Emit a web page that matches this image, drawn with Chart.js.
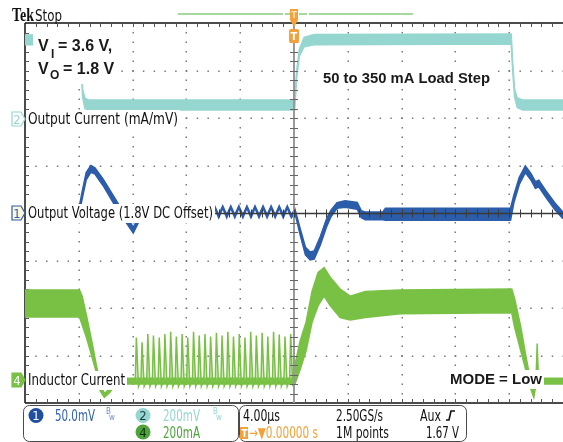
<!DOCTYPE html>
<html>
<head>
<meta charset="utf-8">
<script src="https://cdn.jsdelivr.net/npm/chart.js@4.4.1/dist/chart.umd.min.js"></script>
<style>
  body { margin: 0; background: #fff; }
  canvas { display: block; }
</style>
</head>
<body>
<canvas id="scope" width="563" height="442"></canvas>
<script>
// time in µs (4 µs/div, trigger at 0), values in divisions from screen centre
// each trace is kept as an upper/lower edge so the noise band keeps its thickness

// CH2 output current
const ch2Time = [-20, -15.85, -15.8, -15.72, -15.55, -15.3, 0.05, 0.2, 0.4, 0.75, 1.5, 16.15, 16.25, 16.4, 16.6, 17.0, 20];
const ch2Hi   = [3.75, 3.75, 3.3, 2.6, 2.42, 2.38, 2.38, 3.0, 3.45, 3.7, 3.76, 3.77, 3.2, 2.6, 2.42, 2.38, 2.38];
const ch2Lo   = [3.54, 3.54, 3.1, 2.45, 2.2, 2.17, 2.17, 2.85, 3.3, 3.5, 3.54, 3.56, 3.05, 2.45, 2.22, 2.17, 2.17];

// CH1 output voltage (1.8 V offset)
const ch1Time = [-20, -16.0, -15.75, -15.45, -15.1, -14.8, -14.2, -13.4, -12.6, -11.95, -11.6, -11.3, -6.0,
  -5.9, -5.6, -5.3, -5.0, -4.7, -4.4, -4.1, -3.8, -3.5, -3.2, -2.9, -2.6, -2.3, -2.0, -1.7, -1.4, -1.1, -0.8, -0.5, -0.2, 0.07,
  0.45, 0.85, 1.2, 1.5, 1.95, 2.45, 2.75, 3.2, 3.8, 4.7, 5.0, 5.3, 6.6, 6.8, 16.1, 16.35, 16.75, 17.2, 17.6, 17.95, 18.2, 18.7, 19.4, 20];
const ch1Hi = [0.08, 0.08, 0.45, 0.85, 1.0, 0.95, 0.72, 0.35, -0.02, -0.3, -0.12, 0.06, 0.1,
  0.15, -0.04, 0.15, -0.04, 0.15, -0.04, 0.15, -0.04, 0.15, -0.04, 0.15, -0.04, 0.15, -0.04, 0.15, -0.04, 0.15, -0.04, 0.15, -0.04, 0.08,
  -0.32, -0.72, -0.82, -0.8, -0.5, -0.1, 0.06, 0.22, 0.26, 0.22, 0.05, 0.02, 0.02, 0.1, 0.1, 0.38, 0.75, 0.99, 0.84, 0.66, 0.69, 0.48, 0.21, 0.02];
const ch1Lo = [-0.06, -0.06, 0.3, 0.7, 0.86, 0.82, 0.58, 0.2, -0.15, -0.42, -0.22, -0.04, -0.02,
  0.1, -0.1, 0.1, -0.1, 0.1, -0.1, 0.1, -0.1, 0.1, -0.1, 0.1, -0.1, 0.1, -0.1, 0.1, -0.1, 0.1, -0.1, 0.1, -0.1, 0.0,
  -0.45, -0.88, -0.99, -0.97, -0.68, -0.27, -0.08, 0.1, 0.12, 0.08, -0.1, -0.14, -0.14, -0.15, -0.15, 0.22, 0.6, 0.85, 0.7, 0.52, 0.55, 0.34, 0.07, -0.12];

// CH4 inductor current
const ch4Time = [-20, -15.95, -15.75, -15.4, -15.0, -14.7, -14.4, -14.1, -13.7, -13.3, -12.5, -0.1, 0.07, 0.45, 0.9, 1.34, 1.79,
  2.24, 2.69, 3.43, 4.18, 5.3, 7.9, 16.19, 16.4, 16.86, 17.23, 17.6, 17.83, 18.0, 18.08, 18.16, 20];
const ch4Hi = [-1.62, -1.62, -1.75, -2.2, -2.75, -3.2, -3.6, -3.8, -3.7, -3.55, -3.48, -3.48, -3.2, -2.7, -2.3, -1.65, -1.25,
  -1.15, -1.35, -1.6, -1.75, -1.65, -1.62, -1.6, -1.8, -2.4, -3.0, -3.55, -3.75, -3.48, -2.75, -3.48, -3.48];
const ch4Lo = [-2.19, -2.19, -2.35, -2.65, -3.05, -3.35, -3.75, -3.88, -3.78, -3.62, -3.6, -3.6, -3.6, -3.3, -2.9, -2.3, -1.95,
  -1.75, -1.95, -2.2, -2.25, -2.2, -2.12, -2.1, -2.4, -2.9, -3.3, -3.7, -3.88, -3.6, -3.0, -3.6, -3.6];

// light-load pulses before the step
const pulseTime = [
  -11.80, -11.72, -11.56,  -11.38, -11.30, -11.14,  -10.95, -10.87, -10.71,  -10.53, -10.45, -10.29,
  -10.10, -10.02, -9.86,   -9.68, -9.60, -9.44,     -9.25, -9.17, -9.01,     -8.83, -8.75, -8.59,
  -8.40, -8.32, -8.16,     -7.98, -7.90, -7.74,     -7.55, -7.47, -7.31,     -7.13, -7.05, -6.89,
  -6.70, -6.62, -6.46,     -6.28, -6.20, -6.04,     -5.85, -5.77, -5.61,     -5.43, -5.35, -5.19,
  -5.00, -4.92, -4.76,     -4.58, -4.50, -4.34,     -4.15, -4.07, -3.91,     -3.73, -3.65, -3.49,
  -3.30, -3.22, -3.06,     -2.88, -2.80, -2.64,     -2.45, -2.37, -2.21,     -2.03, -1.95, -1.79,
  -1.60, -1.52, -1.36,     -1.18, -1.10, -0.94,     -0.75, -0.67, -0.51,     -0.33, -0.25, -0.09];
const pulseVal = [
  -3.52, -2.62, -3.65,  -3.52, -2.72, -3.65,  -3.52, -2.55, -3.65,  -3.52, -2.58, -3.65,
  -3.52, -2.62, -3.65,  -3.52, -2.55, -3.65,  -3.52, -2.50, -3.65,  -3.52, -2.60, -3.65,
  -3.52, -2.55, -3.65,  -3.52, -2.62, -3.65,  -3.52, -2.50, -3.65,  -3.52, -2.58, -3.65,
  -3.52, -2.55, -3.65,  -3.52, -2.60, -3.65,  -3.52, -2.52, -3.65,  -3.52, -2.58, -3.65,
  -3.52, -2.50, -3.65,  -3.52, -2.60, -3.65,  -3.52, -2.55, -3.65,  -3.52, -2.62, -3.65,
  -3.52, -2.50, -3.65,  -3.52, -2.58, -3.65,  -3.52, -2.52, -3.65,  -3.52, -2.60, -3.65,
  -3.52, -2.50, -3.65,  -3.52, -2.56, -3.65,  -3.52, -2.60, -3.65,  -3.52, -2.55, -3.65];

const CYAN = '#96d6d1';
const BLUE = '#2c5daa';
const GREEN = '#79c145';
const ORANGE = '#f3a13a';
const NARROW = '"Liberation Sans Narrow", "DejaVu Sans Condensed", "Liberation Sans", sans-serif';
const BOLD = 'bold 15px "Liberation Sans", Arial, sans-serif';

function pts(t, v) {
  return t.map((x, i) => ({ x: x, y: v[i] }));
}

function band(t, hi, lo, color) {
  return [
    { data: pts(t, hi), borderColor: color, borderWidth: 1.5, fill: false },
    { data: pts(t, lo), borderColor: color, borderWidth: 1.5, fill: '-1', backgroundColor: color }
  ];
}

const datasets = [
  ...band(ch1Time, ch1Hi, ch1Lo, BLUE),
  { data: pts(pulseTime, pulseVal), borderColor: GREEN, borderWidth: 1.5,
    fill: { value: -3.52 }, backgroundColor: 'rgba(150,210,110,0.45)' },
  ...band(ch4Time, ch4Hi, ch4Lo, GREEN),
  ...band(ch2Time, ch2Hi, ch2Lo, CYAN)
];

const graticule = {
  id: 'graticule',
  beforeDatasetsDraw(chart) {
    const ctx = chart.ctx;
    const { left, right, top, bottom } = chart.chartArea;
    const xs = chart.scales.x, ys = chart.scales.y;
    const dx = (right - left) / 50, dy = (bottom - top) / 40;
    ctx.save();
    ctx.fillStyle = '#7a7a7a';
    for (let v = -16; v <= 16; v += 4) {
      if (v === 0) continue;
      const px = Math.round(xs.getPixelForValue(v));
      for (let y = top + dy; y < bottom; y += dy) ctx.fillRect(px - 0.5, y - 0.5, 1.5, 1.5);
    }
    for (let v = -3; v <= 3; v++) {
      if (v === 0) continue;
      const py = Math.round(ys.getPixelForValue(v));
      for (let x = left + dx; x < right; x += dx) ctx.fillRect(x - 0.5, py - 0.5, 1.5, 1.5);
    }
    // frame with edge ticks
    ctx.strokeStyle = '#111';
    ctx.lineWidth = 1.5;
    ctx.beginPath();
    ctx.moveTo(left, top); ctx.lineTo(right, top);
    ctx.moveTo(left, bottom); ctx.lineTo(right, bottom);
    ctx.moveTo(left, top); ctx.lineTo(left, bottom);
    ctx.stroke();
    ctx.lineWidth = 1;
    ctx.strokeStyle = '#555';
    ctx.beginPath();
    for (let x = left + dx; x < right; x += dx) {
      ctx.moveTo(Math.round(x) + 0.5, top); ctx.lineTo(Math.round(x) + 0.5, top + 4);
      ctx.moveTo(Math.round(x) + 0.5, bottom); ctx.lineTo(Math.round(x) + 0.5, bottom - 4);
    }
    for (let y = top + dy; y < bottom; y += dy) {
      ctx.moveTo(left, Math.round(y) + 0.5); ctx.lineTo(left + 4, Math.round(y) + 0.5);
    }
    ctx.stroke();
    ctx.restore();
  }
};

// text squeezed to the width it has on the scope screen
function fitText(ctx, text, x, y, font, color, width) {
  ctx.font = font;
  ctx.fillStyle = color;
  ctx.fillText(text, x, y, width);
}

function boxedText(ctx, text, x, y, font, color, width) {
  ctx.font = font;
  const w = Math.min(ctx.measureText(text).width, width || 1000);
  ctx.fillStyle = '#fff';
  ctx.fillRect(x - 2, y - 14, w + 4, 19);
  ctx.fillStyle = color;
  ctx.fillText(text, x, y, w);
}

function marker(ctx, y, label, stroke, fill, textColor) {
  ctx.beginPath();
  ctx.moveTo(12, y - 7); ctx.lineTo(21, y - 7); ctx.lineTo(25, y);
  ctx.lineTo(21, y + 7); ctx.lineTo(12, y + 7); ctx.closePath();
  ctx.fillStyle = fill; ctx.fill();
  ctx.lineWidth = 1.2; ctx.strokeStyle = stroke; ctx.stroke();
  ctx.fillStyle = textColor;
  ctx.font = '13px ' + NARROW;
  ctx.textAlign = 'center';
  ctx.fillText(label, 17, y + 5);
  ctx.textAlign = 'left';
}

function roundBox(ctx, x, y, w, h, r) {
  ctx.beginPath();
  ctx.roundRect(x, y, w, h, r);
  ctx.stroke();
}

function chanDot(ctx, cx, cy, label, fill, textColor) {
  ctx.beginPath();
  ctx.arc(cx, cy, 7.5, 0, Math.PI * 2);
  ctx.fillStyle = fill; ctx.fill();
  ctx.fillStyle = textColor;
  ctx.font = '13px ' + NARROW;
  ctx.textAlign = 'center';
  ctx.fillText(label, cx, cy + 4.5);
  ctx.textAlign = 'left';
}

function bwMark(ctx, x, y, color) {
  ctx.fillStyle = color;
  ctx.font = '8px ' + NARROW;
  ctx.fillText('B', x, y - 2);
  ctx.fillText('w', x + 3, y + 4);
}

const overlay = {
  id: 'overlay',
  afterDatasetsDraw(chart) {
    const ctx = chart.ctx;
    const { left, right, top, bottom } = chart.chartArea;
    const xs = chart.scales.x, ys = chart.scales.y;
    const dx = (right - left) / 50, dy = (bottom - top) / 40;
    const cx = xs.getPixelForValue(0), cy = Math.round(ys.getPixelForValue(0)) + 0.5;
    ctx.save();

    // centre cross with minor ticks
    ctx.strokeStyle = '#9a9a9a';
    ctx.lineWidth = 2;
    ctx.beginPath(); ctx.moveTo(cx, top); ctx.lineTo(cx, bottom); ctx.stroke();
    ctx.lineWidth = 1;
    ctx.strokeStyle = '#666';
    ctx.beginPath();
    for (let y = top + dy; y < bottom; y += dy) {
      ctx.moveTo(cx - 4, Math.round(y) + 0.5); ctx.lineTo(cx + 4, Math.round(y) + 0.5);
    }
    ctx.stroke();
    ctx.strokeStyle = '#3a3a3a';
    ctx.lineWidth = 1.5;
    ctx.beginPath(); ctx.moveTo(left, cy); ctx.lineTo(right, cy); ctx.stroke();
    ctx.lineWidth = 1;
    ctx.beginPath();
    for (let x = left + dx; x < right; x += dx) {
      ctx.moveTo(Math.round(x) + 0.5, cy - 4); ctx.lineTo(Math.round(x) + 0.5, cy + 4);
    }
    ctx.stroke();

    // trace labels
    boxedText(ctx, 'Output Current (mA/mV)', 28, 124, '15px ' + NARROW, '#111', 150);
    boxedText(ctx, 'Output Voltage (1.8V DC Offset)', 28, 218, '15px ' + NARROW, '#111', 185);
    boxedText(ctx, 'Inductor Current', 28, 385, '15px ' + NARROW, '#111', 97);
    marker(ctx, 119, '2', CYAN, '#fff', CYAN);
    marker(ctx, 213, '1', BLUE, '#fdf7dc', BLUE);
    marker(ctx, 380, '4', GREEN, GREEN, '#fff');

    // annotations
    ctx.fillStyle = '#fff';
    ctx.fillRect(33, 32, 80, 52);
    ctx.fillStyle = '#1a1a1a';
    ctx.font = 'bold 16px "Liberation Sans", Arial, sans-serif';
    ctx.fillText('V', 38, 51);
    ctx.fillText('= 3.6 V,', 58, 51);
    ctx.fillText('V', 38, 74);
    ctx.fillText('= 1.8 V', 63, 74);
    ctx.font = 'bold 12px "Liberation Sans", Arial, sans-serif';
    ctx.fillText('I', 51, 58);
    ctx.fillText('O', 50, 79);
    boxedText(ctx, '50 to 350 mA Load Step', 323, 83, BOLD, '#1a1a1a', 167);
    boxedText(ctx, 'MODE = Low', 450, 384, BOLD, '#1a1a1a', 92);

    // trigger position marker
    ctx.fillStyle = ORANGE;
    ctx.beginPath(); ctx.roundRect(cx - 5, 29, 10, 14, 2); ctx.fill();
    ctx.fillStyle = '#fff';
    ctx.font = 'bold 11px ' + NARROW;
    ctx.textAlign = 'center';
    ctx.fillText('T', cx, 40);
    ctx.textAlign = 'left';
    ctx.restore();
  },
  afterDraw(chart) {
    const ctx = chart.ctx;
    const cx = chart.scales.x.getPixelForValue(0);
    ctx.save();

    // header
    fitText(ctx, 'Tek', 12, 21, 'bold 19px "Liberation Serif", "DejaVu Serif", serif', '#111', 22);
    fitText(ctx, 'Stop', 35, 21, '15px ' + NARROW, '#111', 27);

    // record view bar with trigger flag
    ctx.strokeStyle = '#a6d99d';
    ctx.lineWidth = 2;
    ctx.beginPath();
    ctx.moveTo(178, 14); ctx.lineTo(283, 14);
    ctx.moveTo(285, 14); ctx.lineTo(290, 14);
    ctx.moveTo(299, 14); ctx.lineTo(307, 14);
    ctx.moveTo(309, 14); ctx.lineTo(413, 14);
    ctx.stroke();
    ctx.fillStyle = ORANGE;
    ctx.fillRect(cx - 4, 9, 8, 11);
    ctx.beginPath();
    ctx.moveTo(cx - 4, 20); ctx.lineTo(cx + 4, 20); ctx.lineTo(cx, 27); ctx.closePath();
    ctx.fill();
    ctx.fillStyle = '#fde2b8';
    ctx.font = 'bold 9px ' + NARROW;
    ctx.textAlign = 'center';
    ctx.fillText('T', cx, 18);
    ctx.textAlign = 'left';

    // status bar
    ctx.strokeStyle = '#4a4a4a';
    ctx.lineWidth = 1;
    roundBox(ctx, 23.5, 405.5, 215, 36, 6);
    roundBox(ctx, 239.5, 405.5, 227, 36, 6);

    chanDot(ctx, 36, 415.5, '1', '#1f4f9e', '#fff');
    chanDot(ctx, 143, 415.5, '2', CYAN, '#1e3b3a');
    chanDot(ctx, 143, 432, '4', '#4ea33c', '#10300c');
    const f = '15px ' + NARROW;
    fitText(ctx, '50.0mV', 55, 421, f, '#3463b2', 40);
    fitText(ctx, '200mV', 163, 421, f, CYAN, 37);
    fitText(ctx, '200mA', 163, 438, f, '#4ea33c', 37);
    bwMark(ctx, 106, 416, '#6f8fc8');
    bwMark(ctx, 213, 416, CYAN);

    fitText(ctx, '4.00µs', 243, 421, f, '#111', 37);
    fitText(ctx, '2.50GS/s', 336, 421, f, '#111', 47);
    fitText(ctx, 'Aux', 420, 421, f, '#111', 21);
    fitText(ctx, '1M points', 336, 438, f, '#111', 53);
    fitText(ctx, '1.67 V', 426, 438, f, '#111', 33);
    ctx.strokeStyle = '#111';
    ctx.lineWidth = 1.6;
    ctx.beginPath();
    ctx.moveTo(446, 420); ctx.lineTo(449, 420);
    ctx.lineTo(451, 411); ctx.lineTo(455, 411);
    ctx.stroke();

    ctx.fillStyle = ORANGE;
    ctx.fillRect(240, 427, 8, 12);
    fitText(ctx, 'T', 241.5, 437, 'bold 10px ' + NARROW, '#fff', 6);
    fitText(ctx, '\u2192\u25BC0.00000 s', 249, 438, f, ORANGE, 69);
    ctx.restore();
  }
};

new Chart(document.getElementById('scope'), {
  type: 'line',
  data: { datasets: datasets },
  options: {
    responsive: false,
    animation: false,
    layout: { padding: { left: 25, top: 23, right: 0, bottom: 39 } },
    elements: { point: { radius: 0 }, line: { tension: 0 } },
    plugins: {
      legend: { display: false },
      tooltip: { enabled: false }
    },
    scales: {
      x: { type: 'linear', min: -20, max: 20, display: false },
      y: { type: 'linear', min: -4, max: 4, display: false }
    }
  },
  plugins: [graticule, overlay]
});
</script>
</body>
</html>
